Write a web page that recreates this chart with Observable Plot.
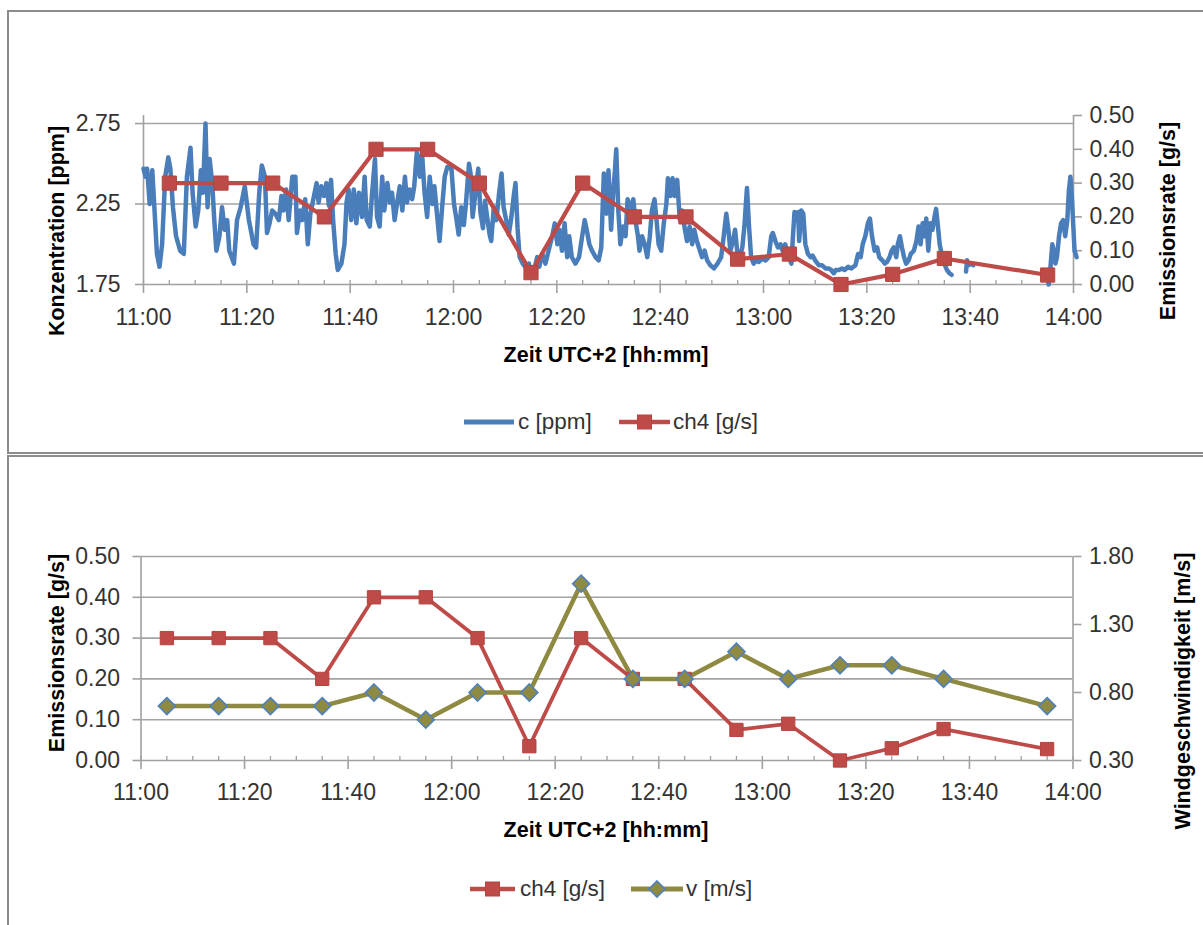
<!DOCTYPE html>
<html><head><meta charset="utf-8">
<script src="https://cdn.jsdelivr.net/npm/d3@7"></script>
<script src="https://cdn.jsdelivr.net/npm/@observablehq/plot@0.6"></script>
<style>
html,body{margin:0;padding:0;background:#fff;}
#page{position:relative;width:1203px;height:925px;overflow:hidden;font-family:"Liberation Sans",Arial,sans-serif;}
.panel{position:absolute;border:2px solid #8c8c8c;box-sizing:border-box;}
.chart{position:absolute;left:0;}
.title{position:absolute;font-weight:bold;font-size:21.5px;color:#000;white-space:nowrap;line-height:26px;}
.ltext{position:absolute;font-size:22.5px;color:#333;white-space:nowrap;line-height:26px;}
.sw{position:absolute;}
</style></head>
<body><div id="page"></div>
<script>
// ---------- data ----------
const emissionTimes = ["11:05","11:15","11:25","11:35","11:45","11:55","12:05","12:15","12:25","12:35","12:45","12:55","13:05","13:15","13:25","13:35","13:55"];
const ch4Values = [0.30,0.30,0.30,0.20,0.40,0.40,0.30,0.035,0.30,0.20,0.20,0.075,0.09,0.00,0.03,0.077,0.028];
const windValues = [0.70,0.70,0.70,0.70,0.80,0.60,0.80,0.80,1.60,0.90,0.90,1.10,0.90,1.00,1.00,0.90,0.70];
// concentration readings: [minutes after 11:00, c in ppm] (null = no data)
const concentrationReadings = [
[0.0,2.47],[0.4,2.42],[0.7,2.47],[1.2,2.25],[1.7,2.46],[2.1,2.23],[2.6,1.94],[3.1,1.86],[3.6,2.00],[4.2,2.42],[4.8,2.54],[5.2,2.47],[5.7,2.23],[6.3,2.05],[7.1,1.96],[7.8,1.94],[8.4,2.42],[9.1,2.60],[9.5,2.32],[10.1,2.11],[10.6,2.21],[11.1,2.46],[11.5,2.32],[12.0,2.75],[12.4,2.23],[12.8,2.53],[13.3,2.38],[13.7,2.15],[14.1,1.96],[14.7,2.05],[15.2,2.23],[15.7,2.09],[16.2,2.15],[16.6,1.96],[17.5,1.88],[18.1,2.15],[18.8,2.23],[19.6,2.36],[20.4,2.15],[21.3,2.00],[21.8,1.98],[22.4,2.32],[22.9,2.49],[23.5,2.42],[23.9,2.07],[24.4,2.13],[24.9,2.21],[25.5,2.19],[26.2,2.15],[26.7,2.30],[27.1,2.21],[27.6,2.34],[28.1,2.15],[28.8,2.42],
[29.4,2.42],[29.7,2.07],[30.3,2.21],[30.7,2.15],[31.3,2.28],[31.8,2.00],[32.3,2.19],[33.0,2.30],[33.5,2.38],[33.9,2.26],[34.4,2.36],[34.9,2.30],[35.4,2.38],[35.9,2.24],[36.3,2.40],[36.7,2.15],[37.2,1.94],[37.6,1.84],[38.3,1.88],[38.9,2.00],[39.3,2.26],[39.7,2.34],[40.2,2.15],[40.7,2.34],[41.2,2.13],[41.7,2.32],[42.3,2.17],[42.8,2.42],[43.2,2.15],[43.8,2.11],[44.2,2.30],[44.8,2.53],[45.2,2.17],[45.7,2.11],[46.2,2.42],[46.6,2.21],[47.2,2.38],[47.7,2.26],[48.1,2.32],[48.6,2.15],[49.1,2.26],[49.6,2.36],[50.1,2.21],[50.6,2.42],[51.0,2.26],[51.5,2.34],[52.0,2.28],[52.4,2.36],[52.9,2.57],[53.5,2.42],[53.9,2.57],[54.4,2.32],[54.9,2.17],[55.4,2.42],[55.9,2.25],[56.3,2.36],[56.8,2.19],[57.3,2.02],[57.8,2.23],[58.3,2.42],[58.8,2.48],
[59.6,2.47],[60.1,2.25],[60.5,2.17],[61.0,2.06],[61.5,2.23],[62.0,2.12],[62.4,2.25],[63.0,2.50],[63.3,2.44],[63.7,2.17],[64.3,2.33],[64.8,2.47],[65.2,2.20],[65.7,2.10],[66.1,2.27],[66.5,2.17],[67.0,2.06],[67.3,2.02],[67.8,2.23],[68.3,2.15],[68.8,2.31],[69.3,2.44],[69.7,2.23],[70.2,2.15],[70.7,2.06],[71.2,2.17],[71.7,2.31],[72.0,2.38],[72.4,2.10],[72.8,1.92],[73.4,1.88],[74.1,1.85],[74.6,1.88],[75.1,1.82],[75.6,1.84],[76.2,1.92],[76.6,1.86],[77.2,1.94],[77.8,1.88],[78.4,1.96],[79.1,2.05],[79.6,2.13],[80.1,2.00],[80.5,2.09],[81.0,1.96],[81.5,2.13],[82.0,1.92],[82.4,2.05],[82.9,1.92],[83.6,1.88],[84.3,1.92],[84.9,2.05],[85.4,2.15],[85.9,2.07],[86.3,2.00],[86.8,1.96],[87.5,1.92],[88.1,1.90],[88.6,1.98],
[89.1,2.44],[89.6,2.19],[90.0,2.46],[90.5,2.09],[90.9,2.32],[91.2,2.44],[91.5,2.59],[91.9,2.21],[92.3,2.00],[92.8,2.11],[93.3,2.05],[93.7,2.28],[94.2,2.21],[94.8,2.28],[95.2,2.15],[95.7,2.05],[96.0,1.96],[96.5,2.05],[97.0,2.00],[97.5,1.92],[98.0,2.05],[98.4,2.21],[98.9,2.28],[99.3,2.15],[99.7,2.00],[100.2,1.96],[100.7,2.13],[101.2,2.25],[101.5,2.41],[102.0,2.30],[102.4,2.41],[102.8,2.30],[103.3,2.40],[103.8,2.15],[104.2,2.21],[104.8,2.09],[105.2,2.02],[105.7,2.11],[106.2,2.00],[106.6,2.09],[107.1,2.02],[107.7,1.96],[108.1,1.92],[108.6,1.96],[109.1,1.90],[109.7,1.87],[110.4,1.85],[111.1,1.88],[111.8,1.92],[112.3,2.05],[112.8,2.19],[113.2,2.09],[113.6,1.96],[114.1,2.02],[114.5,2.09],[114.9,1.96],[115.4,1.92],[115.9,1.98],[116.3,2.11],[116.8,2.35],[117.2,2.11],[117.6,1.92],[118.1,1.88],[118.6,1.90],
[119.1,1.89],[119.7,1.91],[120.4,1.90],[121.0,1.92],[121.5,2.05],[121.8,2.07],[122.3,2.02],[122.8,1.98],[123.3,2.00],[123.7,1.96],[124.2,2.00],[124.9,1.92],[125.4,1.88],[125.7,2.05],[126.0,2.20],[126.4,2.15],[126.7,2.20],[126.9,2.02],[127.3,2.21],[127.7,2.19],[128.1,2.00],[128.6,1.94],[129.1,1.92],[129.5,1.93],[130.0,1.90],[130.7,1.87],[131.3,1.87],[132.0,1.85],[132.6,1.85],[133.1,1.84],[133.6,1.82],[134.0,1.84],[134.6,1.84],[135.2,1.85],[135.7,1.84],[136.4,1.86],[137.0,1.85],[137.8,1.87],[138.3,1.94],[138.8,1.92],[139.2,2.00],[139.7,2.05],[140.2,2.13],[140.6,2.16],[141.0,2.05],[141.5,1.96],[142.0,1.98],[142.4,1.92],[143.0,1.90],[143.5,1.88],[143.9,1.89],[144.4,1.92],[144.8,1.96],[145.2,1.98],[145.7,1.92],[146.0,2.00],[146.4,2.05],[146.8,1.98],[147.2,1.92],[147.6,1.88],[148.1,1.90],[148.5,1.94],
[149.1,1.96],[149.6,2.02],[150.0,2.11],[150.4,2.00],[150.8,2.13],[151.1,2.05],[151.5,2.16],[151.9,1.96],[152.3,2.13],[152.7,2.09],[153.1,2.17],[153.4,2.22],[153.7,2.13],[154.1,2.00],[154.6,1.92],[155.0,1.88],[155.5,1.84],[156.0,1.82],[156.4,1.81],[157.8,null],
[159.2,1.83],[159.4,1.90],[159.7,1.87],[160.2,1.88],[160.6,1.87],[167.0,null],
[174.9,1.80],[175.2,1.75],[175.5,1.84],[175.9,2.00],[176.2,1.96],[176.5,1.88],[176.8,1.92],[177.2,2.05],[177.6,2.13],[178.0,2.15],[178.4,2.05],[178.8,2.15],[179.1,2.33],[179.4,2.42],[179.7,2.28],[180.0,2.09],[180.2,1.96],[180.6,1.92]
];
const xTickLabels = ["11:00","11:20","11:40","12:00","12:20","12:40","13:00","13:20","13:40","14:00"];
const concTicks = [1.75,2.25,2.75];
const emissionTicks = [0,0.1,0.2,0.3,0.4,0.5];
const windTicks = [0.30,0.80,1.30,1.80];

// ---------- helpers ----------
const base = Date.UTC(2000,0,1,11,0,0);
const atMinute = m => new Date(base + Math.round(m*60)*1000);
const parseHM = s => { const [h,mi] = s.split(":").map(Number); return new Date(Date.UTC(2000,0,1,h,mi)); };
const x0 = parseHM("11:00"), x1 = parseHM("14:00");
const majorTicks = xTickLabels.map(parseHM);
const minorTicks = d3.utcMinute.every(5).range(x0, new Date(+x1 + 1));
const fmt = d3.utcFormat("%H:%M");

const emissions = emissionTimes.map((t,i) => ({t: parseHM(t), ch4: ch4Values[i], v: windValues[i]}));
const conc = concentrationReadings.map(([m,c]) => ({t: atMinute(m), c}));

const BLUE = "#4A7EBB", RED = "#BE4B48", OLIVE = "#8E8A42", GRID = "#a3a3a3", AX = "#a0a0a0", TXT = "#333";
const FONT = '"Liberation Sans", Arial, sans-serif';

const diamond = {draw(ctx, size){ const r = Math.sqrt(size/2); ctx.moveTo(0,-r); ctx.lineTo(r,0); ctx.lineTo(0,r); ctx.lineTo(-r,0); ctx.closePath(); }};

const page = document.getElementById("page");
function addPanel(l,t,w,h){ const d=document.createElement("div"); d.className="panel"; Object.assign(d.style,{left:l+"px",top:t+"px",width:w+"px",height:h+"px"}); page.appendChild(d); }
addPanel(7,10,1220,444);
addPanel(7,455,1220,490);

// ---------- top chart: concentration + emission ----------
const topCMin = 1.75, topCMax = 2.80;         // left axis domain
const kTop = (topCMax - topCMin) / 0.5;        // emission 0..0.5 spans full height
const ch4ToC = v => topCMin + v * kTop;
const topFrameH = 284 - 115;

const topChart = Plot.plot({
  width: 1203, height: 440,
  marginTop: 115, marginBottom: 156, marginLeft: 143, marginRight: 130,
  style: {background: "transparent", fontFamily: FONT, overflow: "visible"},
  x: {type: "utc", domain: [x0, x1]},
  y: {domain: [topCMin, topCMax]},
  marks: [
    Plot.ruleY(concTicks.slice(1), {stroke: GRID, strokeWidth: 1.6}),
    Plot.ruleY([topCMin], {stroke: AX, strokeWidth: 1.6}),
    Plot.ruleX([x0, x1], {stroke: AX, strokeWidth: 1.6}),
    Plot.ruleX(minorTicks, {stroke: AX, strokeWidth: 1.3, insetTop: topFrameH - 4}),
    Plot.axisX({ticks: majorTicks, tickFormat: fmt, tickSize: 9, tickPadding: 15, fontSize: 23, stroke: AX, strokeWidth: 1.6, fill: TXT, label: null}),
    Plot.axisY({anchor: "left", ticks: concTicks, tickFormat: d => d.toFixed(2), tickSize: 8, tickPadding: 15, fontSize: 23, stroke: AX, strokeWidth: 1.6, fill: TXT, label: null}),
    Plot.axisY({anchor: "right", ticks: emissionTicks.map(ch4ToC), tickFormat: d => ((d - topCMin) / kTop).toFixed(2), tickSize: 8, tickPadding: 8, fontSize: 23, stroke: AX, strokeWidth: 1.6, fill: TXT, label: null}),
    Plot.line(conc, {x: "t", y: "c", stroke: BLUE, strokeWidth: 4.5, strokeLinejoin: "round", strokeLinecap: "round"}),
    Plot.line(emissions, {x: "t", y: d => ch4ToC(d.ch4), stroke: RED, strokeWidth: 4.2, strokeLinejoin: "round"}),
    Plot.dot(emissions, {x: "t", y: d => ch4ToC(d.ch4), symbol: "square", r: 8, fill: RED, stroke: "#B44440", strokeWidth: 1})
  ]
});
topChart.classList.add("chart");
topChart.style.top = "0px";
page.appendChild(topChart);

// ---------- bottom chart: emission + wind ----------
const windMin = 0.30, windMax = 1.80;
const windToE = v => (v - windMin) / (windMax - windMin) * 0.5;
const botFrameH = 760 - 556;

const botChart = Plot.plot({
  width: 1203, height: 470,
  marginTop: 101, marginBottom: 165, marginLeft: 140.5, marginRight: 130.5,
  style: {background: "transparent", fontFamily: FONT, overflow: "visible"},
  x: {type: "utc", domain: [x0, x1]},
  y: {domain: [0, 0.5]},
  marks: [
    Plot.ruleY(emissionTicks.slice(1), {stroke: GRID, strokeWidth: 1.6}),
    Plot.ruleY([0], {stroke: AX, strokeWidth: 1.6}),
    Plot.ruleX([x0, x1], {stroke: AX, strokeWidth: 1.6}),
    Plot.ruleX(minorTicks, {stroke: AX, strokeWidth: 1.3, insetTop: botFrameH - 4}),
    Plot.axisX({ticks: majorTicks, tickFormat: fmt, tickSize: 9, tickPadding: 14, fontSize: 23, stroke: AX, strokeWidth: 1.6, fill: TXT, label: null}),
    Plot.axisY({anchor: "left", ticks: emissionTicks, tickFormat: d => d.toFixed(2), tickSize: 8, tickPadding: 13, fontSize: 23, stroke: AX, strokeWidth: 1.6, fill: TXT, label: null}),
    Plot.axisY({anchor: "right", ticks: windTicks.map(windToE), tickFormat: d => (windMin + d / 0.5 * (windMax - windMin)).toFixed(2), tickSize: 8, tickPadding: 8, fontSize: 23, stroke: AX, strokeWidth: 1.6, fill: TXT, label: null}),
    Plot.line(emissions, {x: "t", y: "ch4", stroke: RED, strokeWidth: 3.8, strokeLinejoin: "round"}),
    Plot.line(emissions, {x: "t", y: d => windToE(d.v), stroke: OLIVE, strokeWidth: 4.5, strokeLinejoin: "round"}),
    Plot.dot(emissions, {x: "t", y: "ch4", symbol: "square", r: 7.5, fill: RED, stroke: "#B44440", strokeWidth: 1}),
    Plot.dot(emissions, {x: "t", y: d => windToE(d.v), symbol: diamond, r: 6.8, fill: OLIVE, stroke: "#4F81BD", strokeWidth: 1.6})
  ]
});
botChart.classList.add("chart");
botChart.style.top = "455px";
page.appendChild(botChart);

// ---------- titles ----------
function title(text, cx, cy, rotate){
  const d = document.createElement("div"); d.className = "title"; d.textContent = text;
  d.style.left = cx + "px"; d.style.top = cy + "px";
  d.style.transform = "translate(-50%,-50%)" + (rotate ? " rotate(-90deg)" : "");
  page.appendChild(d);
}
title("Konzentration [ppm]", 57, 231, true);
title("Emissionsrate [g/s]", 1168, 221, true);
title("Zeit UTC+2 [hh:mm]", 606, 355, false);
title("Emissionsrate [g/s]", 57, 653, true);
title("Windgeschwindigkeit [m/s]", 1183, 691, true);
title("Zeit UTC+2 [hh:mm]", 606, 830, false);

// ---------- legends ----------
function swatch(x1s, x2s, cy, color, width, marker){
  const ns = "http://www.w3.org/2000/svg";
  const s = document.createElementNS(ns, "svg");
  const w = x2s - x1s, h = 22;
  s.setAttribute("width", w); s.setAttribute("height", h); s.setAttribute("class", "sw");
  s.style.left = x1s + "px"; s.style.top = (cy - h/2) + "px";
  const l = document.createElementNS(ns, "line");
  l.setAttribute("x1", 0); l.setAttribute("x2", w); l.setAttribute("y1", h/2); l.setAttribute("y2", h/2);
  l.setAttribute("stroke", color); l.setAttribute("stroke-width", width);
  s.appendChild(l);
  if (marker === "square") {
    const r = document.createElementNS(ns, "rect");
    r.setAttribute("x", w/2 - 7); r.setAttribute("y", h/2 - 7); r.setAttribute("width", 14); r.setAttribute("height", 14);
    r.setAttribute("fill", RED); r.setAttribute("stroke", "#B44440");
    s.appendChild(r);
  } else if (marker === "diamond") {
    const p = document.createElementNS(ns, "path");
    const cx = w/2, c = h/2, r = 8;
    p.setAttribute("d", `M${cx},${c-r}L${cx+r},${c}L${cx},${c+r}L${cx-r},${c}Z`);
    p.setAttribute("fill", OLIVE); p.setAttribute("stroke", "#4F81BD"); p.setAttribute("stroke-width", 1.6);
    s.appendChild(p);
  }
  page.appendChild(s);
}
function ltext(text, x, cy){
  const d = document.createElement("div"); d.className = "ltext"; d.textContent = text;
  d.style.left = x + "px"; d.style.top = (cy - 13) + "px";
  page.appendChild(d);
}
swatch(464, 514, 422, BLUE, 5, null);
ltext("c [ppm]", 518, 422);
swatch(619, 670, 422, RED, 4.5, "square");
ltext("ch4 [g/s]", 673, 422);

swatch(470, 515, 889, RED, 4.5, "square");
ltext("ch4 [g/s]", 520, 889);
swatch(631, 683, 889, OLIVE, 5, "diamond");
ltext("v [m/s]", 686, 889);
</script>
</body></html>
